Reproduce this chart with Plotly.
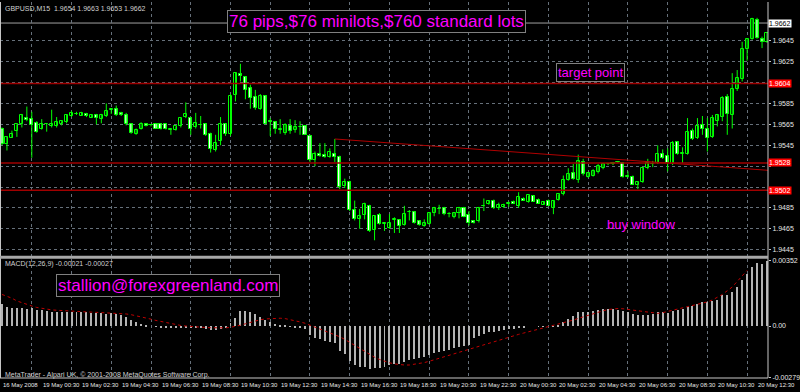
import plotly.graph_objects as go

# ---------------- data ----------------
opens = [1.9561,1.9546,1.9552,1.9559,1.9565,1.9571,1.9570,1.9566,1.9561,1.9565,
         1.9563,1.9563,1.9565,1.9567,1.9573,1.9575,1.9573,1.9575,1.9571,1.9574,
         1.9570,1.9573,1.9579,1.9580,1.9576,1.9574,1.9565,1.9556,1.9561,1.9565,
         1.9564,1.9565,1.9565,1.9565,1.9560,1.9560,1.9563,1.9572,1.9571,1.9562,
         1.9564,1.9565,1.9556,1.9540,1.9549,1.9565,1.9556,1.9593,1.9613,1.9610,
         1.9600,1.9591,1.9580,1.9592,1.9568,1.9567,1.9560,1.9557,1.9563,1.9560,
         1.9562,1.9563,1.9554,1.9531,1.9537,1.9536,1.9534,1.9537,1.9534,1.9506,
         1.9510,1.9483,1.9474,1.9478,1.9487,1.9464,1.9478,1.9470,1.9466,1.9473,
         1.9473,1.9469,1.9481,1.9481,1.9472,1.9468,1.9470,1.9480,1.9484,1.9485,
         1.9479,1.9476,1.9480,1.9485,1.9478,1.9472,1.9472,1.9487,1.9489,1.9492,
         1.9485,1.9486,1.9489,1.9491,1.9487,1.9494,1.9491,1.9496,1.9493,1.9488,
         1.9492,1.9485,1.9493,1.9498,1.9512,1.9518,1.9512,1.9529,1.9515,1.9516,
         1.9519,1.9523,1.9527,1.9527,1.9529,1.9528,1.9515,1.9515,1.9507,1.9510,
         1.9523,1.9527,1.9528,1.9537,1.9535,1.9527,1.9548,1.9537,1.9537,1.9559,
         1.9552,1.9564,1.9561,1.9553,1.9568,1.9572,1.9591,1.9574,1.9599,1.9608,
         1.9637,1.9647,1.9665,1.9647,1.9644]
highs = [1.9562,1.9553,1.9559,1.9565,1.9575,1.9582,1.9577,1.9568,1.9570,1.9566,
         1.9579,1.9572,1.9568,1.9574,1.9578,1.9577,1.9577,1.9576,1.9574,1.9575,
         1.9575,1.9585,1.9580,1.9583,1.9577,1.9576,1.9566,1.9561,1.9567,1.9566,
         1.9565,1.9566,1.9566,1.9565,1.9561,1.9563,1.9571,1.9586,1.9572,1.9576,
         1.9573,1.9566,1.9557,1.9555,1.9572,1.9566,1.9594,1.9615,1.9623,1.9611,
         1.9603,1.9598,1.9594,1.9593,1.9571,1.9568,1.9570,1.9566,1.9570,1.9569,
         1.9568,1.9564,1.9555,1.9539,1.9547,1.9547,1.9542,1.9551,1.9535,1.9513,
         1.9511,1.9492,1.9484,1.9490,1.9488,1.9478,1.9480,1.9471,1.9479,1.9476,
         1.9474,1.9487,1.9483,1.9482,1.9473,1.9474,1.9481,1.9486,1.9488,1.9486,
         1.9481,1.9481,1.9486,1.9486,1.9482,1.9473,1.9486,1.9494,1.9492,1.9493,
         1.9490,1.9489,1.9491,1.9492,1.9500,1.9495,1.9497,1.9497,1.9494,1.9491,
         1.9493,1.9492,1.9498,1.9516,1.9523,1.9527,1.9536,1.9532,1.9519,1.9522,
         1.9527,1.9528,1.9528,1.9529,1.9530,1.9529,1.9520,1.9516,1.9510,1.9524,
         1.9532,1.9530,1.9545,1.9541,1.9542,1.9549,1.9549,1.9543,1.9571,1.9561,
         1.9571,1.9573,1.9571,1.9574,1.9575,1.9592,1.9594,1.9614,1.9617,1.9644,
         1.9647,1.9667,1.9667,1.9649,1.9653]
lows = [1.9545,1.9540,1.9552,1.9553,1.9562,1.9568,1.9533,1.9557,1.9560,1.9558,
        1.9562,1.9562,1.9564,1.9566,1.9572,1.9574,1.9573,1.9572,1.9571,1.9565,
        1.9566,1.9572,1.9575,1.9573,1.9573,1.9564,1.9556,1.9555,1.9560,1.9563,
        1.9563,1.9561,1.9560,1.9560,1.9555,1.9559,1.9562,1.9571,1.9555,1.9561,
        1.9561,1.9554,1.9538,1.9539,1.9545,1.9554,1.9554,1.9587,1.9606,1.9589,
        1.9580,1.9579,1.9579,1.9565,1.9554,1.9556,1.9556,1.9555,1.9556,1.9557,
        1.9555,1.9555,1.9529,1.9525,1.9534,1.9533,1.9533,1.9529,1.9503,1.9504,
        1.9482,1.9473,1.9465,1.9474,1.9462,1.9454,1.9469,1.9463,1.9465,1.9461,
        1.9461,1.9468,1.9473,1.9470,1.9468,1.9467,1.9469,1.9477,1.9479,1.9478,
        1.9476,1.9475,1.9475,1.9476,1.9468,1.9470,1.9471,1.9482,1.9488,1.9484,
        1.9483,1.9485,1.9486,1.9489,1.9485,1.9492,1.9490,1.9491,1.9489,1.9488,
        1.9487,1.9479,1.9492,1.9497,1.9511,1.9512,1.9509,1.9516,1.9514,1.9515,
        1.9518,1.9522,1.9526,1.9526,1.9528,1.9514,1.9514,1.9507,1.9503,1.9509,
        1.9522,1.9524,1.9527,1.9532,1.9520,1.9526,1.9536,1.9528,1.9536,1.9550,
        1.9551,1.9555,1.9539,1.9552,1.9563,1.9568,1.9555,1.9561,1.9597,1.9606,
        1.9626,1.9646,1.9647,1.9638,1.9643]
closes = [1.9546,1.9553,1.9556,1.9565,1.9574,1.9569,1.9564,1.9558,1.9565,1.9565,
          1.9565,1.9567,1.9568,1.9574,1.9576,1.9575,1.9576,1.9573,1.9574,1.9571,
          1.9574,1.9578,1.9579,1.9574,1.9574,1.9565,1.9557,1.9560,1.9565,1.9563,
          1.9564,1.9561,1.9561,1.9561,1.9560,1.9563,1.9571,1.9575,1.9561,1.9566,
          1.9564,1.9555,1.9541,1.9547,1.9565,1.9556,1.9592,1.9614,1.9611,1.9598,
          1.9590,1.9581,1.9592,1.9565,1.9567,1.9561,1.9560,1.9564,1.9559,1.9562,
          1.9562,1.9555,1.9531,1.9537,1.9535,1.9534,1.9539,1.9534,1.9505,1.9510,
          1.9483,1.9474,1.9477,1.9489,1.9463,1.9477,1.9470,1.9470,1.9471,1.9474,
          1.9468,1.9479,1.9481,1.9471,1.9469,1.9471,1.9480,1.9485,1.9484,1.9479,
          1.9479,1.9480,1.9485,1.9476,1.9471,1.9471,1.9485,1.9487,1.9492,1.9485,
          1.9488,1.9488,1.9489,1.9489,1.9495,1.9492,1.9497,1.9491,1.9489,1.9491,
          1.9487,1.9492,1.9498,1.9512,1.9517,1.9513,1.9530,1.9517,1.9518,1.9520,
          1.9525,1.9527,1.9527,1.9528,1.9529,1.9515,1.9515,1.9507,1.9510,1.9523,
          1.9528,1.9527,1.9537,1.9533,1.9528,1.9547,1.9537,1.9537,1.9558,1.9551,
          1.9563,1.9561,1.9552,1.9571,1.9574,1.9590,1.9575,1.9599,1.9609,1.9637,
          1.9647,1.9666,1.9648,1.9644,1.9652]

macd_main = [121,103,100,100,100,94,98,90,89,82,80,76,76,76,76,76,76,76,73,71,
             71,68,71,68,59,50,32,23,11,5,0,-3,-6,-8,-10,-10,-8,-5,-8,-8,
             -8,-12,-20,-22,-12,-10,20,45,85,82,76,68,53,32,23,15,8,3,-2,-5,
             -8,-15,-45,-60,-70,-80,-85,-90,-130,-150,-185,-210,-220,-220,-230,-225,-222,-218,-210,-205,
             -200,-190,-180,-175,-170,-165,-155,-145,-138,-130,-125,-118,-110,-105,-102,-60,-50,-40,-32,-28,
             -24,-20,-16,-12,-6,-4,0,0,-2,-2,0,2,10,23,41,55,80,80,80,85,
             88,94,94,94,88,85,80,68,62,59,64,68,80,76,72,85,88,94,106,112,
             121,130,130,139,142,169,169,187,210,249,284,322,343,338,352]
macd_signal = [170,160,150,135,125,115,108,100,95,90,87,85,83,80,79,78,77,76,75,74,
               73,72,71,70,68,65,61,56,50,44,37,30,24,18,12,7,3,0,-3,-5,
               -7,-8,-9,-10,-10,-10,-7,-3,4,12,20,28,34,38,40,42,42,40,35,28,
               22,15,5,-5,-15,-25,-35,-45,-58,-72,-88,-105,-122,-138,-155,-168,-180,-190,-198,-204,
               -208,-210,-210,-207,-203,-197,-190,-182,-173,-164,-155,-146,-138,-130,-123,-116,-108,-100,-92,-84,
               -76,-68,-60,-52,-45,-38,-31,-24,-17,-11,-5,0,8,15,23,32,41,50,59,67,
               75,82,89,92,94,93,90,86,82,78,76,72,68,72,78,85,90,96,103,109,
               115,121,130,140,153,170,190,210,240,272,300]

time_labels = ["16 May 2008", "19 May 00:30", "19 May 02:30", "19 May 04:30", "19 May 06:30",
               "19 May 08:30", "19 May 10:30", "19 May 12:30", "19 May 14:30", "19 May 16:30",
               "19 May 18:30", "19 May 20:30", "19 May 22:30", "20 May 00:30", "20 May 02:30",
               "20 May 04:30", "20 May 06:30", "20 May 08:30", "20 May 10:30", "20 May 12:30"]
price_ticks = [1.9445, 1.9465, 1.9485, 1.9505, 1.9525, 1.9545, 1.9565, 1.9585, 1.9605, 1.9625, 1.9645]
hidden_ticks = [1.9505, 1.9525, 1.9605]   # covered by the line price boxes
hlines = [1.9604, 1.9528, 1.9502]
bid_price = 1.9662
trend_idx = [67, 154.2]
trend_price = [1.9551, 1.9521]
macd_ticks = [0.00352, 0.0, -0.00279]
macd_ticktext = ["0.00352", "0.00", "-0.00279"]

# ---------------- layout helpers ----------------
W, H = 800, 392
PW, PH = 776, 378          # plot area in px
def xp(px): return px / PW
def yp(py): return 1 - py / PH

N = len(opens)
idx = list(range(N))
XR = [-0.4, 154.2]
MIN_BODY = 0.00003
GREEN = "#00ff00"
GRID = "#66707a"
TXT = "#e6e6e6"
FONT = "Liberation Sans"

fig = go.Figure()

# wicks
wx, wy = [], []
for i in idx:
    wx += [i, i, None]
    wy += [lows[i], highs[i], None]
fig.add_trace(go.Scatter(x=wx, y=wy, mode="lines", line=dict(color=GREEN, width=1),
                         hoverinfo="skip", xaxis="x", yaxis="y"))

# bodies
for bull in (True, False):
    sel = [i for i in idx if (closes[i] >= opens[i]) == bull]
    base = [min(opens[i], closes[i]) for i in sel]
    hgt = [max(abs(closes[i] - opens[i]), MIN_BODY) for i in sel]
    fig.add_trace(go.Bar(x=sel, y=hgt, base=base, width=0.62,
                         marker=dict(color="#000000" if bull else "#ffffff",
                                     line=dict(color=GREEN, width=1)),
                         hoverinfo="skip", xaxis="x", yaxis="y"))

# trend line (ray)
fig.add_trace(go.Scatter(x=trend_idx, y=trend_price, mode="lines",
                         line=dict(color="#b00000", width=1), hoverinfo="skip",
                         xaxis="x", yaxis="y"))

# MACD
fig.add_trace(go.Bar(x=idx, y=[v * 1e-5 for v in macd_main], width=0.2,
                     marker=dict(color="#b4b4b4", line=dict(width=0)),
                     hoverinfo="skip", xaxis="x2", yaxis="y2"))
fig.add_trace(go.Scatter(x=idx, y=[v * 1e-5 for v in macd_signal], mode="lines",
                         line=dict(color="#c00000", width=1, dash="dot"),
                         hoverinfo="skip", xaxis="x2", yaxis="y2"))

shapes = []
for p in hlines:
    shapes.append(dict(type="line", xref="paper", yref="y", x0=0, x1=1, y0=p, y1=p,
                       line=dict(color="#a00000", width=1.5), layer="above"))
shapes.append(dict(type="line", xref="paper", yref="y", x0=0, x1=1, y0=bid_price, y1=bid_price,
                   line=dict(color="#a0a0a0", width=1), layer="below"))
# frame
shapes.append(dict(type="line", xref="paper", yref="paper", x0=1, x1=1, y0=0, y1=1,
                   line=dict(color="#c8c8c8", width=1)))
shapes.append(dict(type="line", xref="paper", yref="paper", x0=xp(0.5), x1=xp(0.5), y0=0, y1=1,
                   line=dict(color="#c8c8c8", width=1)))
shapes.append(dict(type="rect", xref="paper", yref="paper", x0=0, x1=1, y0=yp(258), y1=yp(255),
                   fillcolor="#a8a8a8", line=dict(width=0)))
shapes.append(dict(type="line", xref="paper", yref="paper", x0=0, x1=1, y0=0, y1=0,
                   line=dict(color="#c8c8c8", width=1)))

ann = []
def txt(px, py, s, size, color, xanchor="left", yanchor="middle", **kw):
    ann.append(dict(xref="paper", yref="paper", x=xp(px), y=yp(py), text=s, showarrow=False,
                    xanchor=xanchor, yanchor=yanchor,
                    font=dict(family=FONT, size=size, color=color), **kw))

txt(3, 7, "GBPUSD,M15  1.9654 1.9663 1.9653 1.9662", 7, "#d0d0d0")
txt(3, 263, "MACD(12,26,9) -0.00021 -0.00027", 7, "#d0d0d0")
txt(3, 375, "MetaTrader - Alpari UK, © 2001-2008 MetaQuotes Software Corp.", 7, "#d0d0d0")

boxed = dict(bordercolor="#808080", borderwidth=1, borderpad=1, bgcolor="#000000")
txt(229, 20, "76 pips,$76 minilots,$760 standard lots", 17, "#ff00ff", **boxed)
txt(562, 71, "target point", 13, "#ff00ff", **boxed)
txt(611, 224, "buy window", 13, "#ff00ff")
txt(57, 285, "stallion@forexgreenland.com", 17, "#ff00ff", **boxed)

# time labels
for k, s in enumerate(time_labels):
    ann.append(dict(xref="x", yref="paper", x=8 * k, y=yp(380), text=s, showarrow=False,
                    xanchor="left", yanchor="top", xshift=-1,
                    font=dict(family=FONT, size=6, color=TXT)))

# price boxes on axis
for p in hlines:
    ann.append(dict(xref="paper", yref="y", x=1, y=p, text="%.4f" % p, showarrow=False,
                    xanchor="left", yanchor="middle", bgcolor="#ff0000", borderpad=0,
                    font=dict(family=FONT, size=7, color="#ffffff")))
ann.append(dict(xref="paper", yref="y", x=1, y=bid_price, text="%.4f" % bid_price, showarrow=False,
                xanchor="left", yanchor="middle", bgcolor="#ffffff", borderpad=0,
                font=dict(family=FONT, size=7, color="#000000")))

grid_vals = [6 + 8 * k for k in range(20)]
tick_text = ["" if v in hidden_ticks else "%.4f" % v for v in price_ticks]

fig.update_layout(
    width=W, height=H, margin=dict(l=0, r=W - PW, t=0, b=H - PH),
    paper_bgcolor="#000000", plot_bgcolor="#000000",
    showlegend=False, barmode="overlay", bargap=0,
    xaxis=dict(domain=[0, 1], range=XR, anchor="y", tickvals=grid_vals, showticklabels=False,
               showgrid=True, gridcolor=GRID, griddash="3px,3px", gridwidth=1,
               zeroline=False, showline=False, ticks=""),
    xaxis2=dict(domain=[0, 1], range=XR, anchor="y2", matches="x", tickvals=grid_vals,
                showticklabels=False, showgrid=True, gridcolor=GRID, griddash="3px,3px",
                gridwidth=1, zeroline=False, showline=False, ticks=""),
    yaxis=dict(domain=[yp(255), 1], range=[1.9645 - 216 / 10500, 1.9645 + 39 / 10500],
               side="right", tickvals=price_ticks, ticktext=tick_text,
               tickfont=dict(family=FONT, size=7, color=TXT), showgrid=True, gridcolor=GRID,
               griddash="3px,3px", zeroline=False, ticks="outside", ticklen=2, tickcolor="#c8c8c8"),
    yaxis2=dict(domain=[0, yp(258)], range=[-0.00280, 0.00363], side="right",
                tickvals=macd_ticks, ticktext=macd_ticktext,
                tickfont=dict(family=FONT, size=7, color=TXT), showgrid=False, zeroline=False,
                ticks="outside", ticklen=2, tickcolor="#c8c8c8"),
    shapes=shapes, annotations=ann,
)

fig.write_html("out.html")
